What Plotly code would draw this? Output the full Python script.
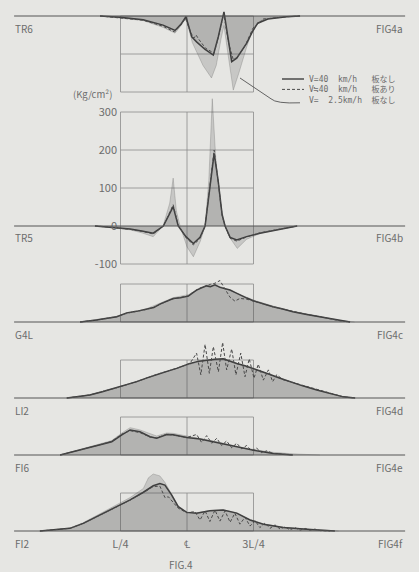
import plotly.graph_objects as go

# ---------------- data ----------------
# x: position along span in % of L ; values: stress in kg/cm2
# V=40 km/h (no plate) = solid ; V~40 km/h (plate) = dashed ; V=2.5 km/h (no plate) = grey area

# FIG4a  TR6
tr6_x = [17.3, 24.8, 33.5, 41.0, 45.5, 47.7, 49.6, 51.8, 53.6, 56.8, 59.9, 61.8, 63.9, 65.4, 66.8, 68.7, 72.4, 74.6, 76.6, 80.4, 87.5, 92.5]
tr6_v40 = [0, -3, -10, -24, -38, -22, -2, -55, -68, -88, -103, -54, 11, -60, -120, -111, -72, -41, -19, -8, -2, 0]
tr6_dx = [17.3, 33.5, 41.0, 45.3, 47.7, 49.4, 51.5, 52.6, 53.4, 54.5, 57.0, 60.2, 62.0, 63.8, 65.6, 67.4, 69.0, 72.0, 74.8, 78.6, 87.5, 92.5]
tr6_v40p = [0, -11, -27, -42, -24, -6, -45, -58, -50, -62, -85, -98, -50, 6, -70, -115, -108, -76, -32, -8, -2, 0]
tr6_sx = [17.3, 33.5, 41.0, 45.5, 47.8, 49.6, 52.0, 56.0, 59.2, 61.0, 62.8, 63.9, 65.2, 67.4, 69.5, 72.5, 75.0, 79.0, 87.5, 92.5]
tr6_v25 = [0, -12, -30, -45, -25, -5, -70, -130, -163, -130, -60, -25, -90, -195, -150, -80, -30, -8, -2, 0]

# FIG4b  TR5
tr5_x = [15.4, 21.1, 28.6, 33.0, 37.3, 41.1, 43.0, 44.8, 46.7, 49.6, 52.4, 54.9, 56.8, 58.6, 60.2, 61.7, 63.2, 64.3, 66.2, 68.7, 72.4, 77.4, 86.1, 91.4]
tr5_v40 = [0, -3, -8, -13, -19, 0, 25, 51, 0, -28, -46, -30, 0, 110, 191, 120, 30, 0, -30, -37, -28, -19, -6, 0]
tr5_dx = tr5_x
tr5_v40p = [0, -3, -9, -14, -21, 0, 28, 56, 2, -30, -50, -33, 0, 115, 200, 118, 28, 0, -32, -40, -29, -18, -6, 0]
tr5_sx = [15.4, 28.6, 33.0, 37.3, 41.0, 43.5, 44.8, 46.0, 47.4, 50.0, 52.4, 55.0, 56.8, 58.2, 59.5, 60.8, 62.5, 64.3, 66.5, 68.9, 72.4, 77.4, 86.1, 91.4]
tr5_v25 = [0, -10, -18, -28, 0, 60, 126, 40, 0, -55, -81, -40, 0, 120, 335, 180, 60, 0, -35, -59, -35, -20, -6, 0]

# FIG4c  G4L
g4l_x = [9.8, 16.0, 23.6, 27.3, 31.0, 34.8, 37.5, 39.8, 42.5, 44.8, 47.5, 50.5, 52.0, 53.6, 55.5, 57.4, 58.8, 60.5, 62.4, 64.0, 66.2, 68.0, 69.9, 72.5, 74.9, 78.5, 82.3, 86.0, 89.8, 95.0, 100.0, 104.0, 107.5, 111.3]
g4l_v40 = [0, 5, 14, 24, 28, 33, 38, 47, 55, 62, 64, 68, 76, 84, 90, 95, 93, 98, 91, 88, 84, 78, 71, 63, 56, 48, 40, 34, 27, 20, 14, 8, 3, 0]
g4l_dx = g4l_x
g4l_v40p = [0, 5, 14, 23, 28, 33, 39, 47, 55, 61, 65, 69, 77, 85, 91, 96, 99, 102, 109, 90, 65, 55, 62, 60, 56, 48, 40, 34, 27, 20, 14, 8, 3, 0]
g4l_sx = [9.8, 23.6, 34.8, 44.8, 50.5, 57.4, 62.4, 69.9, 74.9, 82.3, 89.8, 100.0, 107.5, 113.0]
g4l_v25 = [0, 15, 35, 64, 72, 97, 94, 73, 58, 42, 28, 15, 4, 0]

# FIG4d  LI2
li2_x = [4.8, 9.0, 13.5, 18.5, 23.6, 27.5, 31.1, 35.0, 38.6, 42.5, 46.1, 51.1, 54.5, 57.4, 60.5, 63.6, 66.0, 68.7, 71.8, 74.9, 78.0, 81.2, 85.0, 88.7, 93.5, 98.8, 104.0, 108.8, 113.2]
li2_v40 = [0, 3, 8, 17, 27, 35, 43, 53, 62, 70, 78, 91, 97, 100, 102, 103, 97, 91, 85, 78, 70, 62, 52, 43, 32, 21, 11, 3, 0]
li2_dx = [4.8, 13.5, 23.6, 31.1, 38.6, 46.1, 51.1, 53.6, 55.2, 56.8, 58.4, 59.9, 61.8, 63.4, 64.9, 66.8, 68.4, 70.2, 71.8, 73.4, 75.2, 76.8, 78.7, 80.6, 82.2, 83.7, 86.2, 88.7, 98.8, 108.8, 113.2]
li2_v40p = [0, 8, 27, 43, 62, 78, 91, 118, 61, 141, 65, 135, 69, 146, 74, 129, 61, 118, 56, 103, 52, 89, 47, 74, 43, 61, 48, 43, 21, 3, 0]
li2_sx = li2_x
li2_v25 = [0, 3, 9, 18, 28, 36, 44, 54, 63, 71, 79, 90, 96, 99, 101, 102, 97, 91, 85, 78, 70, 62, 52, 43, 32, 21, 11, 3, 0]

# FIG4e  FI6
fi6_x = [2.3, 9.8, 17.3, 21.7, 25.5, 28.6, 32.3, 36.1, 38.6, 42.4, 44.8, 49.9, 54.9, 59.9, 64.9, 69.9, 76.2, 82.4, 89.8]
fi6_v40 = [0, 13, 26, 35, 53, 66, 61, 48, 44, 54, 53, 46, 42, 35, 26, 19, 11, 4, 0]
fi6_dx = [2.3, 9.8, 17.3, 21.7, 25.5, 28.6, 32.3, 36.1, 38.6, 42.4, 44.8, 49.9, 53.6, 55.5, 57.4, 59.3, 61.2, 63.0, 64.9, 66.8, 68.7, 70.6, 72.4, 74.3, 76.2, 78.1, 80.0, 82.4, 89.8]
fi6_v40p = [0, 13, 27, 36, 55, 64, 59, 47, 45, 55, 52, 46, 54, 33, 51, 31, 44, 25, 37, 19, 31, 16, 25, 11, 18, 6, 11, 4, 0]
fi6_sx = [2.3, 9.8, 17.3, 21.7, 25.5, 28.6, 32.3, 36.1, 38.6, 42.4, 44.8, 49.9, 54.9, 59.9, 64.9, 69.9, 76.2, 82.4, 89.8, 96.0, 100.0]
fi6_v25 = [0, 14, 28, 38, 58, 72, 66, 56, 50, 58, 57, 50, 44, 37, 29, 21, 13, 7, 3, 1, 0]

# FIG4f  FI2
fi2_x = [-5.3, 6.0, 11.0, 16.1, 23.6, 28.6, 33.6, 37.3, 39.8, 41.7, 44.2, 46.7, 49.9, 53.6, 58.6, 63.6, 68.7, 73.7, 78.7, 86.2, 96.2, 103.8, 105.6]
fi2_v40 = [0, 7, 20, 38, 64, 82, 102, 119, 125, 121, 95, 64, 49, 47, 53, 55, 47, 29, 18, 9, 4, 1, 0]
fi2_dx = [-5.3, 6.0, 11.0, 16.1, 23.6, 28.6, 33.6, 37.3, 39.8, 41.0, 41.7, 43.0, 44.2, 46.7, 49.9, 53.0, 54.9, 56.8, 58.6, 60.5, 62.4, 64.3, 66.2, 68.0, 69.9, 71.8, 73.7, 75.6, 77.4, 79.3, 81.2, 83.1, 85.0, 86.8, 88.7, 90.6, 92.5, 94.4, 96.2, 98.1, 100.0, 103.8]
fi2_v40p = [0, 7, 20, 38, 63, 81, 101, 117, 118, 100, 88, 90, 80, 60, 48, 51, 29, 53, 25, 55, 26, 53, 23, 47, 18, 36, 13, 27, 9, 21, 7, 16, 5, 11, 3, 9, 2, 7, 2, 5, 1, 0]
fi2_sx = [-5.3, 6.0, 11.0, 16.1, 23.6, 28.6, 33.6, 35.5, 37.3, 39.8, 41.7, 44.2, 46.7, 49.9, 53.6, 58.6, 63.6, 68.7, 73.7, 78.7, 86.2, 96.2, 103.8, 107.0]
fi2_v25 = [0, 8, 22, 41, 68, 88, 112, 140, 150, 145, 128, 98, 66, 50, 48, 54, 56, 48, 30, 19, 10, 5, 2, 0]

gauges = ["TR6", "TR5", "G4L", "LI2", "FI6", "FI2"]
fig_labels = ["FIG4a", "FIG4b", "FIG4c", "FIG4d", "FIG4e", "FIG4f"]
x_ticks = [25, 50, 75]
x_ticktext = ["L/4", "℄", "3L/4"]
b_ticks = [-100, 0, 100, 200, 300]
legend_texts = ["V=40  km/h   板なし", "V≒40  km/h   板あり", "V=  2.5km/h  板なし"]
unit_text = "(Kg/cm²)"

series = [
    (tr6_x, tr6_v40, tr6_dx, tr6_v40p, tr6_sx, tr6_v25),
    (tr5_x, tr5_v40, tr5_dx, tr5_v40p, tr5_sx, tr5_v25),
    (g4l_x, g4l_v40, g4l_dx, g4l_v40p, g4l_sx, g4l_v25),
    (li2_x, li2_v40, li2_dx, li2_v40p, li2_sx, li2_v25),
    (fi6_x, fi6_v40, fi6_dx, fi6_v40p, fi6_sx, fi6_v25),
    (fi2_x, fi2_v40, fi2_dx, fi2_v40p, fi2_sx, fi2_v25),
]

# ---------------- layout geometry (pixels) ----------------
W, H = 419, 572
S = 0.38                 # px per kg/cm2
X0, LPX = 54.0, 266.0    # pixel of x=0 and pixels per span L
# (baseline px, band top px, band bottom px, box low, box high, inner grid)
geom = [
    (16, 0, 96, -200, 0, [-100]),
    (226, 96, 272, -100, 300, [100, 200]),
    (322, 272, 336, 0, 100, []),
    (398, 336, 408, 0, 100, []),
    (455, 408, 470, 0, 100, []),
    (531, 470, 572, 0, 100, []),
]

BG = "#e6e6e3"
TXT = "#6c6c6c"
FONT = "Noto Sans CJK JP"
MONO = "DejaVu Sans Mono, Noto Sans CJK JP"

def px_x(p):
    return p / W

def px_y(p):
    return 1 - p / H

xmin = (0 - X0) / LPX * 100
xmax = (W - X0) / LPX * 100

fig = go.Figure()
layout = dict(
    width=W, height=H, margin=dict(l=0, r=0, t=0, b=0),
    paper_bgcolor=BG, plot_bgcolor=BG, showlegend=False,
    font=dict(family=FONT, color=TXT, size=10),
    xaxis=dict(range=[xmin, xmax], domain=[0, 1], tickvals=x_ticks, ticktext=x_ticktext,
               anchor="free", position=px_y(536), showgrid=False, zeroline=False,
               showline=False, ticks="", tickfont=dict(size=11, color=TXT, family=FONT)),
)
shapes = []
annotations = []

for i, ((sx, sv, dx, dv, gx, gv), (yb, pt, pb, blo, bhi, grid)) in enumerate(zip(series, geom)):
    yname = "y" if i == 0 else f"y{i+1}"
    lname = "yaxis" if i == 0 else f"yaxis{i+1}"
    rng = [(yb - pb) / S, (yb - pt) / S]
    ax = dict(domain=[px_y(pb), px_y(pt)], range=rng, anchor="x", showgrid=False,
              zeroline=False, showline=False, fixedrange=True)
    if i == 1:
        ax.update(visible=True, anchor="free", position=px_x(117), tickvals=b_ticks,
                  ticktext=[str(t) for t in b_ticks], ticks="",
                  tickfont=dict(size=11, color=TXT, family=FONT))
    else:
        ax.update(visible=False)
    layout[lname] = ax

    fig.add_trace(go.Scatter(x=gx, y=gv, yaxis=yname, mode="lines", fill="tozeroy",
                             fillcolor="rgba(70,70,70,0.19)", line=dict(width=0.6, color="rgba(90,90,90,0.45)")))
    fig.add_trace(go.Scatter(x=sx, y=sv, yaxis=yname, mode="lines", fill="tozeroy",
                             fillcolor="rgba(70,70,70,0.15)", line=dict(width=1.5, color="#3e3e3e")))
    fig.add_trace(go.Scatter(x=dx, y=dv, yaxis=yname, mode="lines",
                             line=dict(width=1.0, color="#4a4a4a", dash="3px,2px")))

    yref = yname
    # baseline
    shapes.append(dict(type="line", xref="x", yref=yref, x0=-15, x1=132, y0=0, y1=0,
                       line=dict(color="#555", width=1)))
    # box L/4 .. 3L/4 with centre line
    box = dict(color="#8c8c8c", width=0.8)
    shapes.append(dict(type="rect", xref="x", yref=yref, x0=x_ticks[0], x1=x_ticks[2],
                       y0=blo, y1=bhi, line=box, layer="below"))
    shapes.append(dict(type="line", xref="x", yref=yref, x0=x_ticks[1], x1=x_ticks[1],
                       y0=blo, y1=bhi, line=box, layer="below"))
    for g in grid:
        shapes.append(dict(type="line", xref="x", yref=yref, x0=x_ticks[0], x1=x_ticks[2],
                           y0=g, y1=g, line=box, layer="below"))
    # labels
    ly = yb + 12
    annotations.append(dict(text=gauges[i], x=px_x(13), y=px_y(ly), xref="paper", yref="paper",
                            xanchor="left", yanchor="middle", showarrow=False,
                            font=dict(size=10, color=TXT, family=FONT)))
    annotations.append(dict(text=fig_labels[i], x=px_x(405), y=px_y(ly), xref="paper", yref="paper",
                            xanchor="right", yanchor="middle", showarrow=False,
                            font=dict(size=10, color=TXT, family=FONT)))

# unit label
annotations.append(dict(text=unit_text, x=px_x(92), y=px_y(94), xref="paper", yref="paper",
                        xanchor="center", yanchor="middle", showarrow=False,
                        font=dict(size=9.5, color=TXT, family=FONT)))
# figure caption
annotations.append(dict(text="FIG.4", x=px_x(181), y=px_y(564), xref="paper", yref="paper",
                        xanchor="center", yanchor="middle", showarrow=False,
                        font=dict(size=10, color=TXT, family=FONT)))

# manual legend (one text block)
LEG_FS = 8
row_gap = 1.3 * LEG_FS
leg_top = 79
leg_rows = [leg_top + k * row_gap for k in range(3)]
shapes.append(dict(type="line", xref="paper", yref="paper", x0=px_x(282), x1=px_x(304),
                   y0=px_y(leg_rows[0]), y1=px_y(leg_rows[0]), line=dict(color="#3e3e3e", width=1.4)))
shapes.append(dict(type="line", xref="paper", yref="paper", x0=px_x(282), x1=px_x(304),
                   y0=px_y(leg_rows[1]), y1=px_y(leg_rows[1]), line=dict(color="#4a4a4a", width=1, dash="3px,2px")))
path = (f"M {px_x(240)} {px_y(78)} L {px_x(271)} {px_y(leg_rows[2] - 1)} "
        f"Q {px_x(276)} {px_y(leg_rows[2] + 4)} {px_x(300)} {px_y(leg_rows[2] + 3)}")
shapes.append(dict(type="path", xref="paper", yref="paper", path=path,
                   line=dict(color="#555", width=0.9)))
annotations.append(dict(text="<br>".join(legend_texts), x=px_x(307), y=px_y((leg_rows[0] + leg_rows[2]) / 2),
                        xref="paper", yref="paper", xanchor="left", yanchor="middle", align="left",
                        showarrow=False, font=dict(size=LEG_FS, color=TXT, family=MONO)))

layout["shapes"] = shapes
layout["annotations"] = annotations
fig.update_layout(**layout)
fig.write_html("out.html")
